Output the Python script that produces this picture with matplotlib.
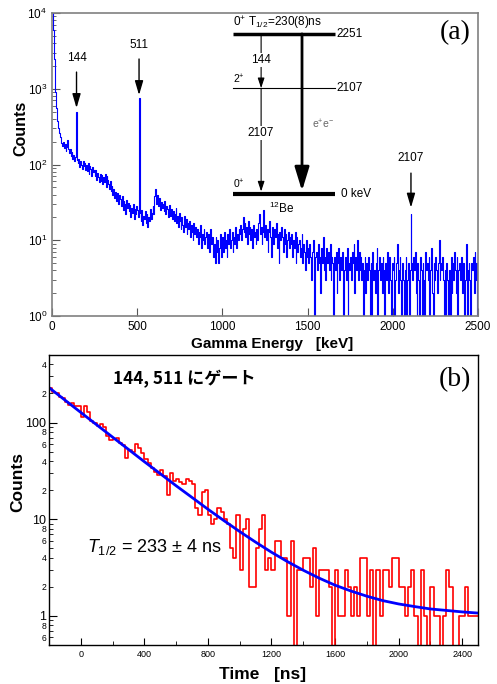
import matplotlib
matplotlib.use("Agg")
import matplotlib.pyplot as plt
import numpy as np

plt.rcParams['font.family'] = ['Liberation Sans', 'DejaVu Sans']
plt.rcParams['mathtext.fontset'] = 'custom'
plt.rcParams['mathtext.rm'] = 'Liberation Sans'
plt.rcParams['mathtext.it'] = 'Liberation Sans:italic'
plt.rcParams['mathtext.bf'] = 'Liberation Sans:bold'

# --- (a) gamma spectrum, 5 keV bins starting at 0 keV ---
bin_width = 5
gamma_counts = [
    15000, 6000, 2500, 1500, 900, 550, 380, 300, 260, 230,
    210, 190, 175, 200, 165, 185, 150, 170, 210, 160,
    140, 160, 128, 145, 118, 135, 110, 125, 490, 115,
    105, 118, 92, 110, 98, 88, 112, 95, 104, 85,
    100, 82, 105, 76, 96, 86, 70, 92, 80, 85,
    70, 85, 62, 78, 68, 58, 75, 60, 72, 55,
    68, 58, 75, 50, 70, 62, 55, 48, 60, 45,
    52, 40, 47, 36, 44, 33, 42, 38, 30, 40,
    35, 28, 38, 25, 33, 30, 22, 34, 27, 31,
    24, 29, 20, 27, 23, 30, 19, 26, 22, 28,
    25, 20, 755, 23, 18, 25, 16, 21, 19, 24,
    17, 22, 15, 20, 18, 26, 19, 23, 28, 22,
    38, 48, 30, 40, 33, 28, 36, 25, 32, 27,
    30, 24, 33, 22, 28, 26, 20, 29, 24, 21,
    26, 19, 24, 18, 22, 27, 17, 21, 15, 23,
    18, 14, 20, 16, 13, 21, 15, 19, 12, 17,
    14, 18, 11, 16, 13, 10, 17, 12, 15, 11,
    14, 9, 13, 11, 16, 8, 12, 10, 14, 9,
    11, 13, 8, 12, 7, 10, 14, 9, 11, 6,
    9, 5, 11, 7, 10, 5, 8, 12, 6, 9,
    11, 7, 13, 8, 10, 6, 12, 9, 14, 8,
    10, 13, 7, 11, 9, 15, 8, 12, 10, 14,
    12, 16, 10, 14, 20, 13, 17, 11, 15, 9,
    18, 12, 15, 10, 14, 8, 16, 11, 13, 9,
    14, 10, 17, 22, 12, 15, 9, 13, 25, 11,
    16, 10, 14, 7, 13, 18, 11, 6, 15, 12,
    9, 14, 11, 17, 8, 12, 5, 13, 10, 15,
    11, 7, 14, 9, 12, 6, 10, 13, 8, 11,
    9, 12, 6, 10, 8, 13, 5, 11, 7, 9,
    10, 6, 8, 12, 5, 9, 7, 4, 10, 6,
    8, 5, 9, 6, 3, 7, 10, 4, 0, 6,
    7, 4, 9, 5, 6, 2, 8, 5, 11, 4,
    6, 3, 8, 5, 7, 4, 9, 3, 6, 5,
    0, 6, 4, 7, 2, 5, 8, 3, 6, 4,
    5, 7, 0, 4, 6, 3, 8, 0, 5, 4,
    6, 3, 7, 5, 9, 2, 6, 4, 10, 3,
    7, 4, 6, 3, 5, 0, 4, 6, 2, 5,
    3, 6, 4, 0, 5, 0, 7, 3, 4, 2,
    5, 8, 0, 4, 6, 3, 5, 2, 6, 4,
    0, 5, 3, 7, 4, 2, 6, 3, 0, 5,
    4, 6, 0, 3, 5, 9, 2, 4, 6, 3,
    0, 5, 3, 0, 4, 6, 0, 3, 5, 0,
    4, 22, 5, 3, 6, 4, 7, 2, 0, 5,
    3, 0, 6, 4, 0, 5, 3, 0, 7, 4,
    5, 3, 6, 0, 4, 8, 2, 0, 5, 3,
    6, 4, 2, 5, 10, 3, 5, 4, 6, 3,
    0, 4, 0, 5, 3, 0, 4, 0, 6, 2,
    5, 3, 7, 4, 2, 6, 0, 4, 5, 3,
    6, 2, 4, 5, 0, 3, 9, 0, 4, 5,
    3, 0, 5, 4, 6, 2, 7, 3, 5, 0,
]
peak_labels = ['144', '511', '2107']
peak_energies = [144, 511, 2107]
peak_text_y = [2550, 3780, 122]
peak_tail_y = [1660, 2470, 77]
peak_tip_y = [557, 826, 27]

# --- (b) time spectrum gated on 144 and 511 keV, 20 ns bins from -200 ns ---
t_start = -200
t_bin = 20
decay_counts = [
    230, 205, 200, 185, 178, 165, 152, 158, 150, 148,
    115, 148, 130, 105, 98, 92, 97, 90, 73, 66,
    68, 70, 62, 58, 43, 52, 50, 60, 55, 48,
    42, 38, 34, 31, 29, 32, 28, 18, 30, 25,
    26, 24, 23, 26, 25, 23, 13, 11, 19, 20,
    11, 9, 10, 13, 12, 10, 9, 5, 4, 11,
    3, 8, 10, 2, 2, 5, 8, 11, 3, 4,
    3, 6, 6, 4, 4, 1, 6, 0, 3, 3,
    4, 4, 2, 5, 1, 3, 3, 3, 2, 0,
    3, 1, 1, 3, 2, 1, 2, 1, 4, 4,
    1, 3, 0, 3, 1, 3, 3, 2, 4, 4,
    2, 2, 1, 2, 3, 1, 0, 3, 1, 0,
    2, 1, 1, 0, 1, 3, 2, 0, 0, 1,
    1, 2, 1, 1, 1,
]
fit_t = [-200, -100, 0, 100, 200, 300, 400, 500, 600, 700, 800, 900, 1000,
         1100, 1200, 1300, 1400, 1500, 1600, 1700, 1800, 1900, 2000, 2100,
         2200, 2300, 2400, 2500]
fit_counts = [230, 171, 127.3, 94.8, 70.7, 52.8, 39.4, 29.6, 22.2, 16.8, 12.7,
              9.7, 7.46, 5.80, 4.56, 3.65, 2.97, 2.46, 2.08, 1.81, 1.60, 1.44,
              1.33, 1.25, 1.18, 1.14, 1.10, 1.07]


def main():
    fig = plt.figure(figsize=(4.97, 6.84), dpi=100)

    # ---------------- panel (a) ----------------
    ax1 = fig.add_axes([0.1046, 0.538, 0.857, 0.443])
    edges = np.arange(len(gamma_counts) + 1) * bin_width
    ax1.step(edges, np.append(gamma_counts, gamma_counts[-1]), where='post',
             color='#0000ff', lw=0.8)
    ax1.set_yscale('log')
    ax1.set_xlim(0, 2500)
    ax1.set_ylim(1, 1e4)
    ax1.set_xticks([0, 500, 1000, 1500, 2000, 2500])
    ax1.tick_params(which='both', direction='in', labelsize=8.5, color='#555555')
    ax1.tick_params(which='major', length=6)
    ax1.tick_params(which='minor', length=3)
    for s in ax1.spines.values():
        s.set_color('#808080')
        s.set_linewidth(1.2)
    ax1.set_ylabel('Counts', fontsize=11.5, fontweight='bold')
    ax1.yaxis.set_label_coords(-0.056, 0.62)
    ax1.set_xlabel('Gamma Energy   [keV]', fontsize=11, fontweight='bold')
    ax1.xaxis.set_label_coords(0.516, -0.069)

    for lab, e, ty, tail, tip in zip(peak_labels, peak_energies, peak_text_y,
                                     peak_tail_y, peak_tip_y):
        ax1.annotate('', xy=(e, tip), xytext=(e, tail),
                     arrowprops=dict(arrowstyle='-|>,head_length=0.85,head_width=0.25',
                                     color='k', lw=1, mutation_scale=10,
                                     shrinkA=0, shrinkB=0))
        ax1.text(e, ty, lab, ha='center', va='center', fontsize=8.5)

    # level scheme of 12Be
    T = ax1.transAxes
    x0, x1 = 0.425, 0.664
    y_top, y_mid, y_gs = 0.931, 0.752, 0.403
    ax1.plot([x0, x1], [y_top, y_top], transform=T, color='k', lw=2.5,
             solid_capstyle='butt')
    ax1.plot([x0, x1], [y_mid, y_mid], transform=T, color='k', lw=0.8)
    ax1.plot([x0, x1], [y_gs, y_gs], transform=T, color='k', lw=3,
             solid_capstyle='butt')
    ax1.text(x0, y_top + 0.008, r'0$^{+}$ T$_{1/2}$=230(8)ns', transform=T,
             fontsize=8.5, va='bottom', ha='left')
    ax1.text(x1 + 0.003, y_top, '2251', transform=T, fontsize=8.5, va='center')
    ax1.text(x0, y_mid + 0.008, r'2$^{+}$', transform=T, fontsize=7.5, va='bottom')
    ax1.text(x1 + 0.003, y_mid, '2107', transform=T, fontsize=8.5, va='center')
    ax1.text(x0, y_gs + 0.01, r'0$^{+}$', transform=T, fontsize=7.5, va='bottom')
    ax1.text(0.678, y_gs, '0 keV', transform=T, fontsize=8.5, va='center')
    ax1.text(0.540, 0.356, r'$^{12}$Be', transform=T, fontsize=8.5,
             ha='center', va='center')

    xa, xb = 0.491, 0.587
    thin = dict(arrowstyle='-|>,head_length=0.6,head_width=0.2', color='k',
                lw=0.8, mutation_scale=10, shrinkA=0, shrinkB=0)
    ax1.annotate('', xy=(xa, y_mid), xytext=(xa, y_top), xycoords=T,
                 textcoords=T, arrowprops=thin)
    ax1.annotate('', xy=(xa, y_gs + 0.008), xytext=(xa, y_mid), xycoords=T,
                 textcoords=T, arrowprops=thin)
    ax1.annotate('', xy=(xb, y_gs + 0.01), xytext=(xb, y_top), xycoords=T,
                 textcoords=T,
                 arrowprops=dict(arrowstyle='-|>,head_length=0.72,head_width=0.22',
                                 color='k', lw=2, mutation_scale=20,
                                 shrinkA=0, shrinkB=0))
    ax1.text(xa, 0.845, '144', transform=T, fontsize=8.5, ha='center',
             va='center', bbox=dict(fc='white', ec='none', pad=0.5))
    ax1.text(xa, 0.604, '2107', transform=T, fontsize=8.5, ha='center',
             va='center', bbox=dict(fc='white', ec='none', pad=0.5))
    ax1.text(0.610, 0.634, r'e$^{+}$e$^{-}$', transform=T, fontsize=7.5,
             color='#666666', va='center')
    ax1.text(0.946, 0.934, '(a)', transform=T, fontsize=20, ha='center',
             va='center', family=['Liberation Serif', 'DejaVu Serif'])

    # ---------------- panel (b) ----------------
    ax2 = fig.add_axes([0.0986, 0.057, 0.8632, 0.424])
    t_edges = t_start + np.arange(len(decay_counts) + 1) * t_bin
    ax2.step(t_edges, np.append(decay_counts, decay_counts[-1]), where='post',
             color='#ff0000', lw=1.2)
    ax2.plot(fit_t, fit_counts, color='#0000ff', lw=2)
    ax2.set_yscale('log')
    ax2.set_xlim(-200, 2500)
    ax2.set_ylim(0.5, 500)

    ax2.set_yticks([1, 10, 100])
    ax2.set_yticklabels(['1', '10', '100'])
    minor = []
    minor_lab = []
    for dec in [0.1, 1, 10, 100]:
        for m in range(2, 10):
            v = m * dec
            if 0.5 < v < 500:
                minor.append(v)
                minor_lab.append(str(m) if m % 2 == 0 else '')
    ax2.set_yticks(minor, minor=True)
    ax2.set_yticklabels(minor_lab, minor=True)
    ax2.set_xticks([0, 400, 800, 1200, 1600, 2000, 2400])
    ax2.set_xticks([200, 600, 1000, 1400, 1800, 2200], minor=True)
    ax2.tick_params(which='both', direction='in')
    ax2.tick_params(axis='y', which='major', length=6, labelsize=9, pad=2)
    ax2.tick_params(axis='y', which='minor', length=3, labelsize=6.2, pad=2)
    ax2.tick_params(axis='x', which='major', length=5, labelsize=6.5)
    ax2.tick_params(axis='x', which='minor', length=3)
    for s in ax2.spines.values():
        s.set_linewidth(1)
    ax2.set_ylabel('Counts', fontsize=12.5, fontweight='bold')
    ax2.yaxis.set_label_coords(-0.056, 0.562)
    ax2.set_xlabel('Time   [ns]', fontsize=12.5, fontweight='bold')
    ax2.xaxis.set_label_coords(0.498, -0.077)

    ax2.text(0.149, 0.917, '144, 511 にゲート', transform=ax2.transAxes,
             fontsize=12.3, fontweight='bold', va='center',
             family=['Noto Sans CJK JP', 'DejaVu Sans'])
    ax2.text(0.0886, 0.338, r'$T_{1/2}$ = 233 ± 4 ns', transform=ax2.transAxes,
             fontsize=13, va='center')
    ax2.text(0.946, 0.914, '(b)', transform=ax2.transAxes, fontsize=20,
             ha='center', va='center',
             family=['Liberation Serif', 'DejaVu Serif'])

    fig.savefig('out.png', dpi=100)
    plt.close(fig)


if __name__ == "__main__":
    main()
